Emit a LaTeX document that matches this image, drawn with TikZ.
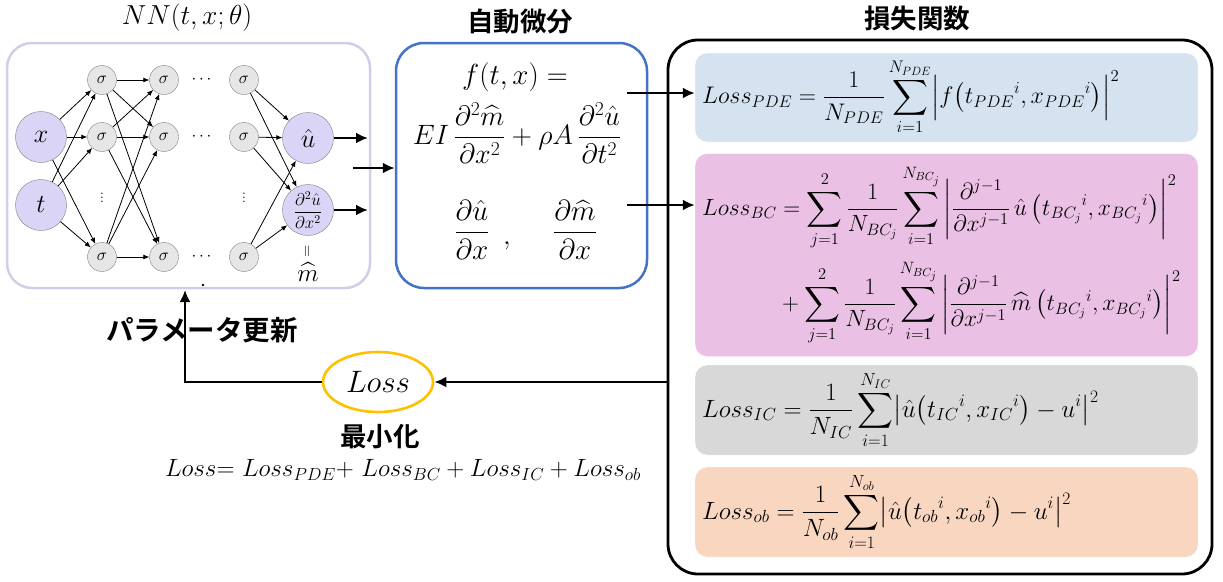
\RequirePackage{fix-cm}
\documentclass[tikz,border=0pt]{standalone}
\usepackage{amsmath}
\usepackage{fontspec}
\usetikzlibrary{arrows.meta,positioning,shapes.geometric}
\newfontfamily\jpfont{Noto Sans CJK JP Bold}

\definecolor{nnline}{HTML}{D4CCE8}
\definecolor{inpurple}{HTML}{DAD4F6}
\definecolor{sigfill}{HTML}{E6E6E6}
\definecolor{diffblue}{HTML}{4472C4}
\definecolor{pdefill}{HTML}{D5E3F1}
\definecolor{bcfill}{HTML}{EAC1E5}
\definecolor{icfill}{HTML}{D8D8D8}
\definecolor{obfill}{HTML}{F8D6C0}
\definecolor{lossyellow}{HTML}{FFC000}

\begin{document}
\begin{tikzpicture}[x=1pt,y=-1pt,
    font=\fontsize{25}{30}\selectfont,
    arr/.style={-{Latex[length=12pt,width=11pt]},line width=2.4pt},
    wire/.style={-{Latex[length=6pt,width=5pt]},line width=0.8pt},
    io/.style={circle,draw=gray,fill=inpurple,minimum size=51pt,inner sep=0pt,font=\fontsize{26}{30}\selectfont},
    unit/.style={circle,draw=gray,fill=sigfill,minimum size=29pt,inner sep=0pt,font=\fontsize{17}{20}\selectfont},
    title/.style={font=\jpfont\fontsize{26.5}{30}\selectfont},
    part/.style={rounded corners=12pt,minimum width=503pt,inner sep=0pt,draw=white},
    formula/.style={anchor=west,inner sep=0pt}]
\useasboundingbox (0,0) rectangle (1223,581);

% neural network
\node (nnbox) [draw=nnline,line width=2.5pt,rounded corners=25pt,minimum width=363pt,minimum height=245pt] at (188.5,165.5) {};
\node[font=\fontsize{27.5}{32}\selectfont] at (187,18) {$NN(t,x;\theta)$};
\node[io] (x) at (41,137) {$x$};
\node[io] (t) at (41,205) {$t$};
\foreach \c/\xx in {a/102,b/164,c/244}
  \foreach \r/\yy in {1/80,2/137,3/257}
    \node[unit] (\c\r) at (\xx,\yy) {$\sigma$};
\foreach \yy in {80,137,257}
  \node[font=\fontsize{17}{20}\selectfont] at (203,\yy) {$\cdots$};
\node[font=\fontsize{17}{20}\selectfont] at (102,195) {$\vdots$};
\node[font=\fontsize{17}{20}\selectfont] at (244,195) {$\vdots$};
\node[io] (u) at (308,138) {$\hat{u}$};
\node[io,font=\fontsize{17}{20}\selectfont] (d2u) at (308,210) {$\dfrac{\partial^2\hat{u}}{\partial x^2}$};
\node[rotate=90,font=\fontsize{16}{18}\selectfont] (eq) at (308,251) {$=$};
\node (m) at (308,272) {$\widehat{m}$};
\foreach \s in {x,t}
  \foreach \r in {1,2,3}
    \draw[wire] (\s) -- (a\r);
\foreach \p in {1,2,3}
  \foreach \q in {1,2,3}
    \draw[wire] (a\p) -- (b\q);
\foreach \r in {1,2,3}
  \foreach \o in {u,d2u}
    \draw[wire] (c\r) -- (\o);
\coordinate (uout) at (368,138);
\coordinate (dout) at (368,210);
\draw[arr] (u) -- (uout);
\draw[arr] (d2u) -- (dout);
\fill (203,285) circle (1.3pt);

% automatic differentiation
\node (diff) [draw=diffblue,line width=2.5pt,rounded corners=28pt,minimum width=251pt,minimum height=245pt] at (521.5,165.5) {};
\node[title] at (520,22) {自動微分};
\coordinate (nnout) at (353,168);
\draw[arr] (nnout) -- (nnout -| diff.west);
\node[font=\fontsize{29}{34}\selectfont] (fdef) at (515,77) {$f(t,x) =$};
\node[font=\fontsize{28}{33}\selectfont] (pde) at (517,133) {$EI\,\dfrac{\partial^2\widehat{m}}{\partial x^2}+\rho A\,\dfrac{\partial^2\hat{u}}{\partial t^2}$};
\node[font=\fontsize{29}{34}\selectfont] (du) at (472,230) {$\dfrac{\partial\hat{u}}{\partial x}$};
\node[font=\fontsize{28}{33}\selectfont] (comma) at (507,246) {$,$};
\node[font=\fontsize{29}{34}\selectfont] (dm) at (575,230) {$\dfrac{\partial\widehat{m}}{\partial x}$};

% loss function
\node (lbox) [draw,line width=2.8pt,rounded corners=30pt,minimum width=544pt,minimum height=534pt] at (940,307) {};
\node[title] at (917,18) {損失関数};
\node (pdebox) [part,fill=pdefill,minimum height=89pt] at (946.5,97.5) {};
\node (bcbox) [part,fill=bcfill,minimum height=203pt] at (946.5,255) {};
\node (icbox) [part,fill=icfill,minimum height=90pt] at (946.5,410) {};
\node (obbox) [part,fill=obfill,minimum height=90pt] at (946.5,512) {};
\node[formula,font=\fontsize{24}{29}\selectfont] at (702,97) {$\displaystyle Loss_{PDE}=\frac{1}{N_{PDE}}\sum_{i=1}^{N_{PDE}}\Bigl|f\bigl(t_{PDE}{}^{i},x_{PDE}{}^{i}\bigr)\Bigr|^2$};
\node[formula,font=\fontsize{23.5}{28}\selectfont] at (702,255) {$\displaystyle\begin{aligned}
  Loss_{BC}&=\sum_{j=1}^{2}\frac{1}{N_{BC_j}}\sum_{i=1}^{N_{BC_j}}\left|\frac{\partial^{j-1}}{\partial x^{j-1}}\,\hat{u}\left(t_{BC_j}{}^{i},x_{BC_j}{}^{i}\right)\right|^2\\[6pt]
  &+\sum_{j=1}^{2}\frac{1}{N_{BC_j}}\sum_{i=1}^{N_{BC_j}}\left|\frac{\partial^{j-1}}{\partial x^{j-1}}\,\widehat{m}\left(t_{BC_j}{}^{i},x_{BC_j}{}^{i}\right)\right|^2
  \end{aligned}$};
\node[formula,font=\fontsize{25}{30}\selectfont] at (702,410) {$\displaystyle Loss_{IC}=\frac{1}{N_{IC}}\sum_{i=1}^{N_{IC}}\bigl|\hat{u}\bigl(t_{IC}{}^{i},x_{IC}{}^{i}\bigr)-u^{i}\bigr|^2$};
\node[formula,font=\fontsize{25}{30}\selectfont] at (702,512) {$\displaystyle Loss_{ob}=\frac{1}{N_{ob}}\sum_{i=1}^{N_{ob}}\bigl|\hat{u}\bigl(t_{ob}{}^{i},x_{ob}{}^{i}\bigr)-u^{i}\bigr|^2$};
\coordinate (fout) at (627,93);
\coordinate (bout) at (627,205);
\draw[arr] (fout) -- (fout -| pdebox.west);
\draw[arr] (bout) -- (bout -| bcbox.west);

% minimisation and update
\node (L) [ellipse,draw=lossyellow,line width=2.6pt,minimum width=110pt,minimum height=60pt,inner sep=0pt,font=\fontsize{31}{36}\selectfont] at (378,382) {$Loss$};
\draw[arr] (L.east -| lbox.west) -- (L.east);
\coordinate (upd) at (185,290);
\draw[arr] (L.west) -| (upd);
\node[title,font=\jpfont\fontsize{27.5}{32}\selectfont] at (202,330) {パラメータ更新};
\node[title] at (380,437) {最小化};
\node at (403,470) {$Loss{=}\ Loss_{PDE}{+}\ Loss_{BC}+Loss_{IC}+Loss_{ob}$};
\end{tikzpicture}
\end{document}
